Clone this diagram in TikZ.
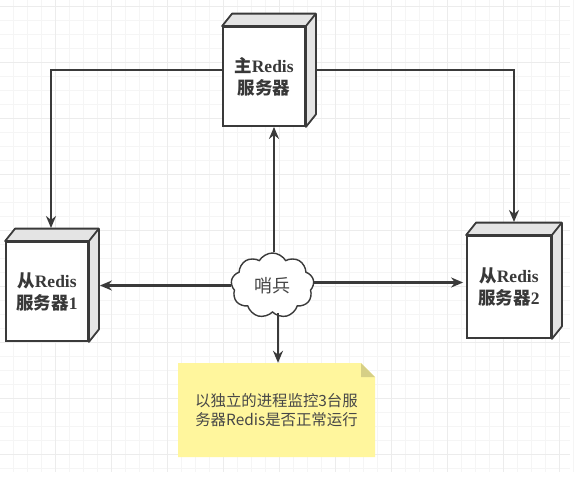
\documentclass[tikz,border=0pt]{standalone}
\usepackage{xcolor}
\usepackage{fontspec}
\setmainfont{Liberation Serif}
\newfontfamily\cjk{Noto Sans CJK SC}
\usetikzlibrary{shapes.symbols, arrows.meta, calc}
\definecolor{linecol}{RGB}{58,58,58}
\definecolor{sidecol}{RGB}{228,228,228}
\definecolor{notecol}{RGB}{255,246,157}
\definecolor{foldcol}{RGB}{214,207,134}
\definecolor{gridcol}{RGB}{245,245,245}
\definecolor{majorcol}{RGB}{236,236,236}

\begin{document}
\begin{tikzpicture}[
    x=1pt, y=-1pt,
    >={Stealth[length=12pt, width=10pt]},
    %% Base node style
    server/.style={
        rectangle, draw=linecol, line width=1.8pt, fill=white, align=center,
        minimum width=82pt, minimum height=99pt, inner sep=0pt,
        font=\cjk\bfseries\fontsize{17.5}{22}\selectfont, text=black!78
    },
    face/.style={draw=linecol, line width=1.8pt, fill=sidecol, line join=round},
    sentinel/.style={
        cloud, cloud puffs=9, cloud puff arc=120, aspect=1.25, draw=linecol, line width=1.4pt,
        fill=white, minimum width=83pt, minimum height=65pt, inner sep=0pt,
        font=\cjk\fontsize{18}{20}\selectfont, text=black!72
    },
    memo/.style={
        minimum width=197pt, minimum height=94pt, inner sep=0pt, align=center,
        font=\cjk\fontsize{15.4}{19}\selectfont, text=black!72
    },
    flow/.style={->, line width=2.2pt, color=linecol},
]

% Page and grid
\useasboundingbox[fill=white] (0,0) rectangle (586,482);
\foreach \gx in {0,...,40} \draw[gridcol, line width=0.6pt] ({13.3+14*\gx},0) -- ({13.3+14*\gx},472);
\foreach \gy in {0,...,33} \draw[gridcol, line width=0.6pt] (0,{6+14*\gy}) -- (570,{6+14*\gy});
\foreach \gx in {0,...,9} \draw[majorcol, line width=0.7pt] ({55.3+56*\gx},0) -- ({55.3+56*\gx},472);
\foreach \gy in {0,...,8} \draw[majorcol, line width=0.7pt] (0,{6+56*\gy}) -- (570,{6+56*\gy});

% Servers
\node[server] (master) at (264, 76.5)  {主{\rmfamily Redis}\\服务器};
\node[server] (slave1) at (47,  291.5) {从{\rmfamily Redis}\\服务器{\rmfamily 1}};
\node[server, minimum width=84pt, minimum height=102pt] (slave2) at (509, 287) {从{\rmfamily Redis}\\服务器{\rmfamily 2}};

% Sentinel and note
\node[sentinel] (sentinel) at (272.5, 285.5) {哨兵};
\coordinate (notesw) at (178, 457);
\coordinate (notene) at (375, 363);
\fill[notecol] (notesw) |- ([xshift=-14]notene) -- ([yshift=-14]notene) |- cycle;
\fill[foldcol] ([xshift=-14]notene) -- ([xshift=-14,yshift=-14]notene) -- ([yshift=-14]notene) -- cycle;
\node[memo] (note) at ($(notesw)!0.5!(notene)$) {以独立的进程监控3台服\\务器Redis是否正常运行};

% Depth faces
\foreach \name in {master, slave1, slave2} {
    \draw[face] (\name.north west) -- ++(10,-12.5) -| ([xshift=10,yshift=12.5]\name.south east) -- (\name.south east) -- (\name.north east) -- cycle;
    \draw[face, fill=none] (\name.north east) -- ++(10,-12.5);
}

% Master to slaves
\coordinate (leftdrop)  at (51,  228);
\coordinate (rightdrop) at (514, 222);
\draw[flow] ([yshift=6.5]master.west) -| (leftdrop);
\draw[flow] ([xshift=10,yshift=6.5]master.east) -| (rightdrop);

% Sentinel arrows
\draw[flow] ([xshift=1.5]sentinel.north) -- ([xshift=1.5]sentinel.north |- master.south);
\draw[flow] (sentinel.west) -- ([xshift=11]slave1.east |- sentinel.west);
\draw[flow] ([yshift=3]sentinel.east) -- ([xshift=-3,yshift=3]slave2.west |- sentinel.east);
\draw[flow] ([xshift=5.5]sentinel.south) -- ([xshift=5.5]sentinel.south |- note.north);

\end{tikzpicture}
\end{document}
